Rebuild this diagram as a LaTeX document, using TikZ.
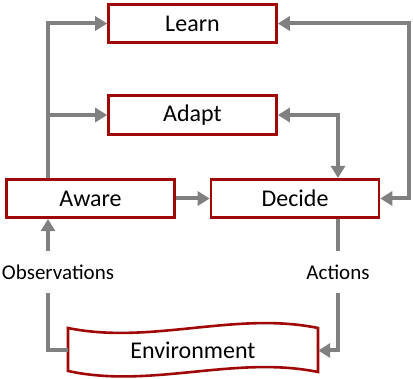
\documentclass[tikz,border=0pt]{standalone}
\usepackage{fontspec}
\setmainfont{Carlito}
\usetikzlibrary{arrows.meta}
\definecolor{boxred}{RGB}{160,8,8}
\definecolor{linegray}{RGB}{128,128,128}
\begin{document}
\begin{tikzpicture}[x=1pt,y=-1pt,
  box/.style={draw=boxred, line width=2.6pt, fill=white, minimum width=168pt, minimum height=38.5pt, inner sep=0pt, font=\fontsize{24}{28}\selectfont},
  lbl/.style={inner sep=0pt, minimum height=42pt, font=\fontsize{21}{25}\selectfont},
  conn/.style={draw=linegray, line width=4pt},
  arr/.style={conn, -{Triangle[length=12pt,width=14pt]}},
  arrboth/.style={conn, {Triangle[length=12pt,width=14pt]}-{Triangle[length=12pt,width=14pt]}}]
\useasboundingbox (0,0) rectangle (413,379);
\node[box] (Learn) at (192.5,23.5) {Learn};
\node[box] (Adapt) at (192.5,115) {Adapt};
\node[box] (Aware) at (90.5,198.5) {Aware};
\node[box] (Decide) at (295,198.5) {Decide};
% environment wave
\draw[draw=boxred, line width=2.6pt, fill=white, line join=miter]
  (68,328) .. controls (151,345) and (235,311) .. (318,328)
  -- (318,372) .. controls (235,355) and (151,389) .. (68,371) -- cycle;
\node[inner sep=0pt, minimum width=250pt, minimum height=44pt, font=\fontsize{24}{28}\selectfont] (Env) at (193,350.5) {Environment};
\node[lbl] (obs) at (58,272) {Observations};
\node[lbl] (act) at (338,272) {Actions};
\coordinate (L) at (48,0);
\coordinate (R) at (409,0);
\coordinate (M) at (338,0);
\draw[arr] (L |- Aware.north) |- (Learn.west);
\draw[arr] (L |- Adapt.west) -- (Adapt.west);
\draw[arrboth] (Decide.east) -- (R |- Decide.east) -- (R |- Learn.east) -- (Learn.east);
\draw[arrboth] (Adapt.east) -| (M |- Decide.north);
\draw[arr] (Aware.east) -- (Decide.west);
\draw[arr] (obs.north -| L) -- (L |- Aware.south);
\draw[conn] (obs.south -| L) |- (Env.west);
\draw[conn] (M |- Decide.south) -- (act.north);
\draw[arr] (act.south) |- (Env.east);
\end{tikzpicture}
\end{document}
